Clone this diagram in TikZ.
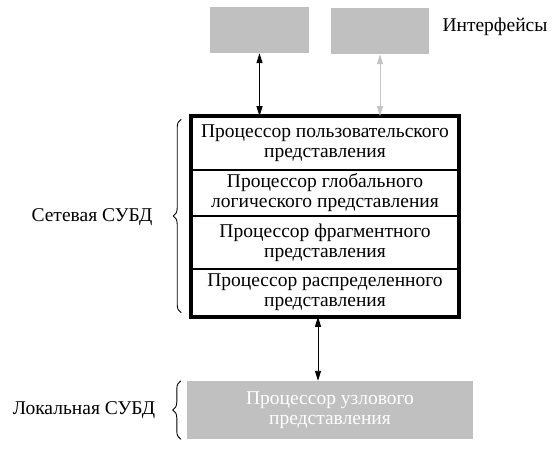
\documentclass[tikz,border=0pt]{standalone}
\usepackage{fontspec}
\setmainfont{Liberation Serif}
\usetikzlibrary{arrows.meta,decorations.pathreplacing}
\definecolor{boxgray}{HTML}{C0C0C0}
\definecolor{lightarr}{HTML}{C4C4C4}
\begin{document}
\begin{tikzpicture}[x=1pt,y=-1pt,
  every node/.style={font=\fontsize{19.5}{20}\selectfont, inner sep=0pt},
  graybox/.style={fill=boxgray, draw=none, minimum width=#1},
  rowbox/.style={draw=black, line width=1.6pt, minimum width=266pt, align=center},
  arr/.style={{Triangle[width=6pt,length=10pt]}-{Triangle[width=6pt,length=10pt]}, line width=0.9pt},
  bracestyle/.style={decorate, decoration={brace, amplitude=8pt, mirror}, line width=0.9pt},
  lbl/.style={anchor=center}
]
\useasboundingbox (0,0) rectangle (553,448);
% interfaces
\node[graybox=99pt, minimum height=46pt] (i1) at (259.5,30) {};
\node[graybox=98pt, minimum height=46pt] (i2) at (380,31) {};
\node[lbl] (itxt) at (495,27) {Интерфейсы};
% rows
\node[rowbox, minimum height=53pt] (r1) at (325,143.5) {Процессор пользовательского\\представления};
\node[rowbox, minimum height=46pt] (r2) at (325,193) {Процессор глобального\\логического представления};
\node[rowbox, minimum height=53pt] (r3) at (325,242.5) {Процессор фрагментного\\представления};
\node[rowbox, minimum height=47pt] (r4) at (325,292.5) {Процессор распределенного\\представления};
\draw[line width=3.5pt] (r1.north west) rectangle (r4.south east);
% local
\node[graybox=286pt, minimum height=58pt, text=white, align=center] (loc) at (330,410) {Процессор узлового\\представления};
% arrows
\draw[arr] (i1.south) -- (i1.south |- r1.north);
\draw[arr, draw=lightarr, fill=lightarr] (i2.south) -- (i2.south |- r1.north);
\draw[arr] ([xshift=-7pt]r4.south) -- ([xshift=-12pt]loc.north);
% braces
\coordinate (b1t) at ([xshift=-10pt,yshift=-3pt]r1.north west);
\coordinate (b1b) at ([xshift=-10pt,yshift=4pt]r4.south west);
\draw[bracestyle] (b1t) -- (b1b);
\coordinate (b2t) at ([xshift=-6pt]loc.north west);
\coordinate (b2b) at ([xshift=-6pt]loc.south west);
\draw[bracestyle] (b2t) -- (b2b);
\node[lbl] (net) at (92,217) {Сетевая СУБД};
\node[lbl] (lcl) at (84,410) {Локальная СУБД};
\end{tikzpicture}
\end{document}
